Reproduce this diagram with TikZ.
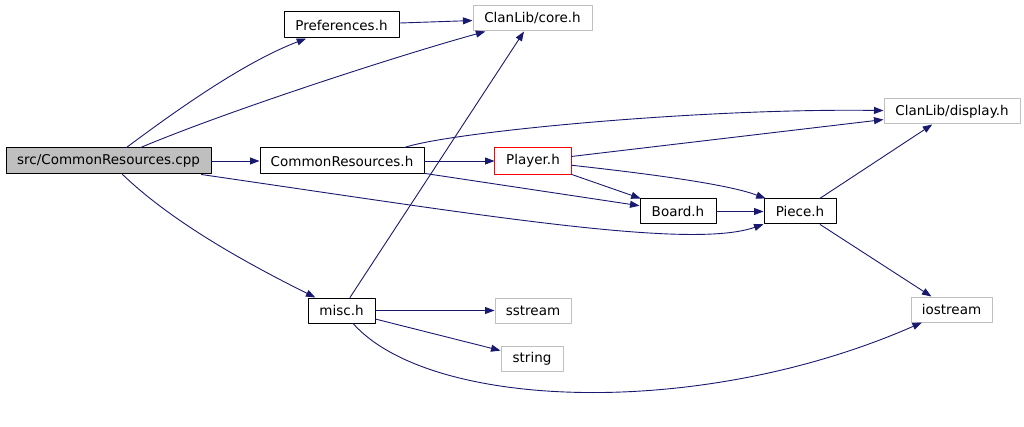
\documentclass[tikz,border=0pt]{standalone}
\usepackage{fontspec}
\setmainfont{DejaVu Sans}
\usetikzlibrary{arrows.meta}
\definecolor{edgeblue}{HTML}{191970}
\definecolor{boxgray}{HTML}{BFBFBF}
\definecolor{curred}{HTML}{FF0000}
\begin{document}
\begin{tikzpicture}[x=1pt, y=-1pt, font=\fontsize{13.5}{15}\selectfont, line cap=round, line join=round,
  >={Triangle[length=9.5pt,width=7pt]},
  hdr/.style={draw=black, line width=1pt, inner sep=0pt, minimum height=25pt},
  sys/.style={hdr, draw=boxgray},
  dep/.style={->, draw=edgeblue, line width=0.9pt}]
\useasboundingbox (0,0) rectangle (1024,427);
\node[hdr, fill=boxgray, minimum width=205pt, minimum height=26pt] (cpp) at (108.5,161) {src/CommonResources.cpp};
\node[hdr, minimum width=115pt, minimum height=26pt] (pref) at (341.5,25) {Preferences.h};
\node[sys, minimum width=119pt] (core) at (532.5,18.5) {ClanLib/core.h};
\node[hdr, minimum width=164pt, minimum height=26pt] (crh) at (342,161) {CommonResources.h};
\node[hdr, draw=none, minimum width=76pt, minimum height=26pt] (player) at (533,161) {Player.h};
\draw[curred, line width=1.1pt] (player.north west) rectangle (player.south east);
\node[sys, minimum width=136pt] (display) at (952,111.5) {ClanLib/display.h};
\node[hdr, minimum width=76pt] (board) at (678,211.5) {Board.h};
\node[hdr, minimum width=72pt] (piece) at (800,211.5) {Piece.h};
\node[hdr, minimum width=67pt] (misc) at (341.5,310.5) {misc.h};
\node[sys, minimum width=76pt] (sstream) at (533,310.5) {sstream};
\node[sys, minimum width=62pt] (string) at (532,358.5) {string};
\node[sys, minimum width=81pt] (iostream) at (951.5,309.5) {iostream};
% from the source file
\draw[dep] (cpp) .. controls (190,100) and (250,60) .. (pref);
\draw[dep] (cpp) .. controls (230,110) and (400,55) .. (core);
\draw[dep] (cpp) -- (crh);
\draw[dep] (cpp) .. controls (170,220) and (240,260) .. (misc);
\draw[dep] (cpp) .. controls (480,215) and (690,250) .. (piece);
% headers
\draw[dep] (pref) -- (core);
\draw[dep] (crh) -- (player);
\draw[dep] ([xshift=-20pt]crh.north east) .. controls (450,132) and (700,108) .. (display);
\draw[dep] (crh) -- (board);
\draw[dep] (player) -- (display);
\draw[dep] (player) -- (board);
\draw[dep] (player) .. controls (660,175) and (730,185) .. (piece);
\draw[dep] (board) -- (piece);
\draw[dep] (piece) -- (display);
\draw[dep] (piece) -- (iostream);
\draw[dep] (misc) -- (core);
\draw[dep] (misc) -- (sstream);
\draw[dep] (misc) -- (string);
\draw[dep] (misc) .. controls (430,410) and (700,420) .. (iostream);
\end{tikzpicture}
\end{document}
